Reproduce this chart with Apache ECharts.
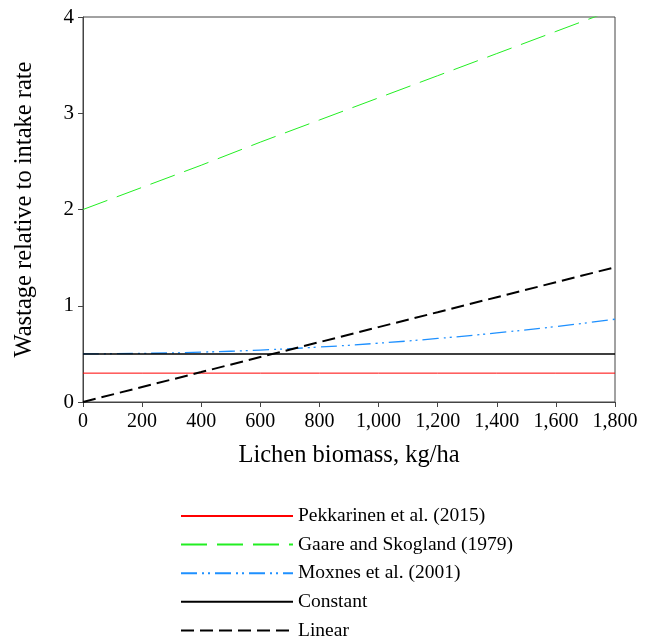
<!DOCTYPE html>
<html><head><meta charset="utf-8">
<script src="https://cdn.jsdelivr.net/npm/echarts@6/dist/echarts.min.js"></script>
<style>html,body{margin:0;padding:0;background:#fff}#c{width:645px;height:641px}</style>
</head><body><div id="c"></div>
<script>
const biomass = [0, 200, 400, 600, 800, 1000, 1200, 1400, 1600, 1800];
const pekkarinen = [0.30, 0.30, 0.30, 0.30, 0.30, 0.30, 0.30, 0.30, 0.30, 0.30];
const gaare = [2.00, 2.23, 2.46, 2.70, 2.93, 3.16, 3.39, 3.62, 3.85, 4.08];
const moxnes = [0.50, 0.505, 0.518, 0.54, 0.571, 0.611, 0.66, 0.718, 0.784, 0.86];
const constant = [0.50, 0.50, 0.50, 0.50, 0.50, 0.50, 0.50, 0.50, 0.50, 0.50];
const linear = [0.00, 0.156, 0.311, 0.467, 0.622, 0.778, 0.933, 1.089, 1.244, 1.40];
const seriesNames = ['Pekkarinen et al. (2015)', 'Gaare and Skogland (1979)', 'Moxnes et al. (2001)', 'Constant', 'Linear'];

const pairs = arr => biomass.map((x, i) => [x, arr[i]]);
const font = 'Liberation Serif';
const axisCol = '#444';

const chart = echarts.init(document.getElementById('c'));
chart.setOption({
  animation: false,
  grid: { left: 83, right: 30, top: 17, bottom: 239, show: true, borderColor: axisCol, borderWidth: 1 },
  xAxis: {
    type: 'value', min: 0, max: 1800, interval: 200,
    name: 'Lichen biomass, kg/ha', nameLocation: 'middle', nameGap: 41,
    nameTextStyle: { fontFamily: font, fontSize: 24.5, color: '#000' },
    axisLine: { show: true, lineStyle: { color: axisCol } },
    axisTick: { show: true, length: 5, lineStyle: { color: axisCol } },
    axisLabel: { fontFamily: font, fontSize: 20, color: '#000', margin: 10,
      formatter: v => v.toLocaleString('en-US') },
    splitLine: { show: false }
  },
  yAxis: {
    type: 'value', min: 0, max: 4, interval: 1,
    name: 'Wastage relative to intake rate', nameLocation: 'middle', nameGap: 46,
    nameTextStyle: { fontFamily: font, fontSize: 24.5, color: '#000' },
    axisLine: { show: true, lineStyle: { color: axisCol } },
    axisTick: { show: true, length: 5, lineStyle: { color: axisCol } },
    axisLabel: { fontFamily: font, fontSize: 21, color: '#000', margin: 9 },
    splitLine: { show: false }
  },
  legend: {
    orient: 'vertical', left: 180, top: 506, padding: 0,
    itemWidth: 112, itemHeight: 14, itemGap: 8.6,
    itemStyle: { opacity: 0 },
    textStyle: { fontFamily: font, fontSize: 19.5, color: '#000' },
    data: seriesNames
  },
  series: [
    { name: seriesNames[0], type: 'line', symbol: 'none', data: pairs(pekkarinen),
      lineStyle: { color: '#ff0000', width: 1 }, itemStyle: { color: '#ff0000' } },
    { name: seriesNames[1], type: 'line', symbol: 'none', data: pairs(gaare),
      lineStyle: { color: '#22ee22', width: 1, type: [26, 10] }, itemStyle: { color: '#22ee22' } },
    { name: seriesNames[2], type: 'line', symbol: 'none', smooth: true, data: pairs(moxnes),
      lineStyle: { color: '#1e90ff', width: 1.3, type: [16, 5, 2, 4, 2, 5] }, itemStyle: { color: '#1e90ff' } },
    { name: seriesNames[3], type: 'line', symbol: 'none', data: pairs(constant),
      lineStyle: { color: '#000', width: 1.5 }, itemStyle: { color: '#000' } },
    { name: seriesNames[4], type: 'line', symbol: 'none', data: pairs(linear),
      lineStyle: { color: '#000', width: 2, type: [13, 6] }, itemStyle: { color: '#000' } }
  ]
});
</script></body></html>
